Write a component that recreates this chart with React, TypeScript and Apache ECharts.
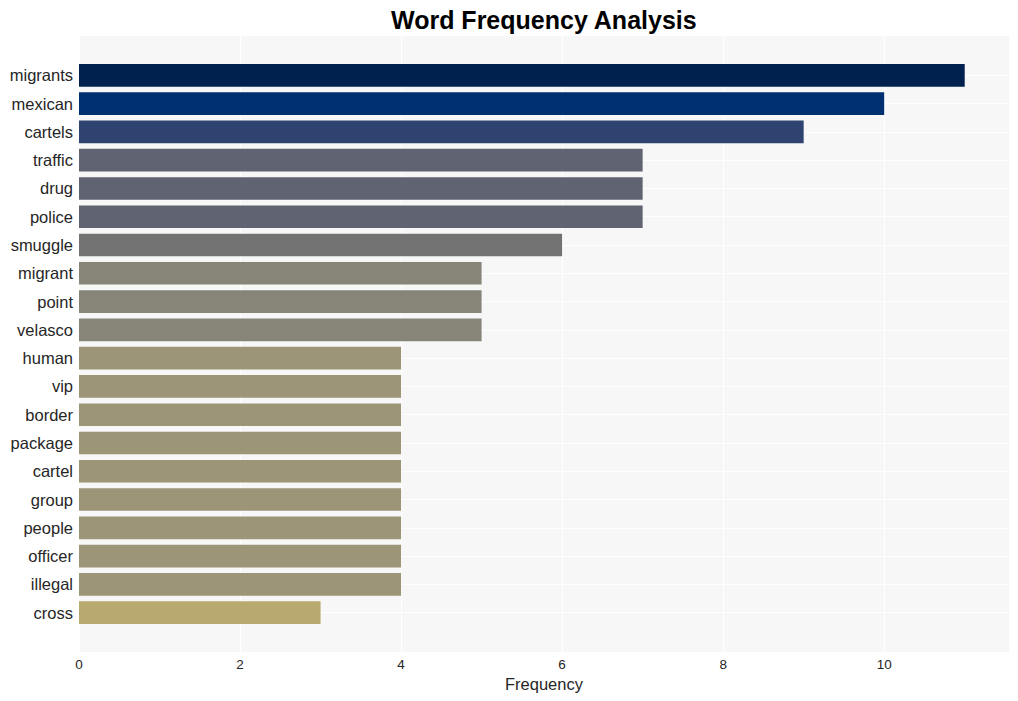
import React, { useEffect, useRef } from "react";
import * as echarts from "echarts";

const categories = [
  "migrants", "mexican", "cartels", "traffic", "drug", "police", "smuggle",
  "migrant", "point", "velasco", "human", "vip", "border", "package",
  "cartel", "group", "people", "officer", "illegal", "cross",
];
const values = [11, 10, 9, 7, 7, 7, 6, 5, 5, 5, 4, 4, 4, 4, 4, 4, 4, 4, 4, 3];
const colors = [
  "#00204d", "#00306f", "#2f4370", "#5f6372", "#5f6372", "#5f6372", "#727272",
  "#878577", "#878577", "#878577", "#9d9577", "#9d9577", "#9d9577", "#9d9577",
  "#9d9577", "#9d9577", "#9d9577", "#9d9577", "#9d9577", "#b8a96e",
];
const xTicks = [0, 2, 4, 6, 8, 10];
const xMax = 11.55;

const FONT = "Liberation Sans, Arial, sans-serif";

export default function App() {
  const ref = useRef<HTMLDivElement>(null);
  useEffect(() => {
    if (!ref.current) return;
    const chart = echarts.init(ref.current, null, { renderer: "svg" });
    const plotTop = 36;
    const plotH = 616;
    const units = 21.78;
    const band = plotH / units;
    const barTop = plotTop + 0.89 * band;
    const barH = 20 * band;
    chart.setOption({
      animation: false,
      backgroundColor: "#ffffff",
      title: {
        text: "Word Frequency Analysis",
        left: 386,
        top: 2,
        textStyle: { fontFamily: FONT, fontSize: 25, fontWeight: "bold", color: "#000" },
      },
      grid: [
        { left: 79, right: 9, top: plotTop, height: plotH, show: true, backgroundColor: "#f7f7f7", borderWidth: 0 },
        { left: 79, right: 9, top: barTop, height: barH },
      ],
      xAxis: [
        {
          gridIndex: 0,
          type: "value",
          min: 0,
          max: xMax,
          interval: 2,
          name: "Frequency",
          nameLocation: "middle",
          nameGap: 23,
          nameTextStyle: { fontFamily: FONT, fontSize: 16.5, color: "#262626" },
          axisLine: { show: false },
          axisTick: { show: false },
          axisLabel: {
            fontFamily: FONT,
            fontSize: 13.5,
            color: "#262626",
            margin: 5,
            formatter: (v: number) => (xTicks.includes(v) ? String(v) : ""),
          },
          splitLine: { show: true, lineStyle: { color: "#ffffff", width: 1 } },
        },
        {
          gridIndex: 1,
          type: "value",
          min: 0,
          max: xMax,
          show: false,
          splitLine: { show: false },
        },
      ],
      yAxis: [
        { gridIndex: 0, type: "value", show: false, splitLine: { show: false } },
        {
          gridIndex: 1,
          type: "category",
          data: categories,
          inverse: true,
          axisLine: { show: false },
          axisTick: { show: false },
          splitLine: { show: false },
          axisLabel: { fontFamily: FONT, fontSize: 16.5, color: "#262626", margin: 6 },
        },
      ],
      series: [
        {
          type: "line",
          xAxisIndex: 1,
          yAxisIndex: 1,
          data: [],
          z: 1,
          silent: true,
          markLine: {
            silent: true,
            z: 1,
            symbol: "none",
            label: { show: false },
            lineStyle: { color: "#ffffff", width: 1, type: "solid" },
            data: categories.map((c) => ({ yAxis: c })),
          },
        },
        {
          type: "bar",
          xAxisIndex: 1,
          yAxisIndex: 1,
          z: 5,
          barWidth: "80%",
          data: values.map((v, i) => ({ value: v, itemStyle: { color: colors[i] } })),
        },
      ],
    });
    return () => chart.dispose();
  }, []);
  return (
    <div
      ref={ref}
      style={{ position: "absolute", left: 0, top: 0, width: 1018, height: 701 }}
    />
  );
}
